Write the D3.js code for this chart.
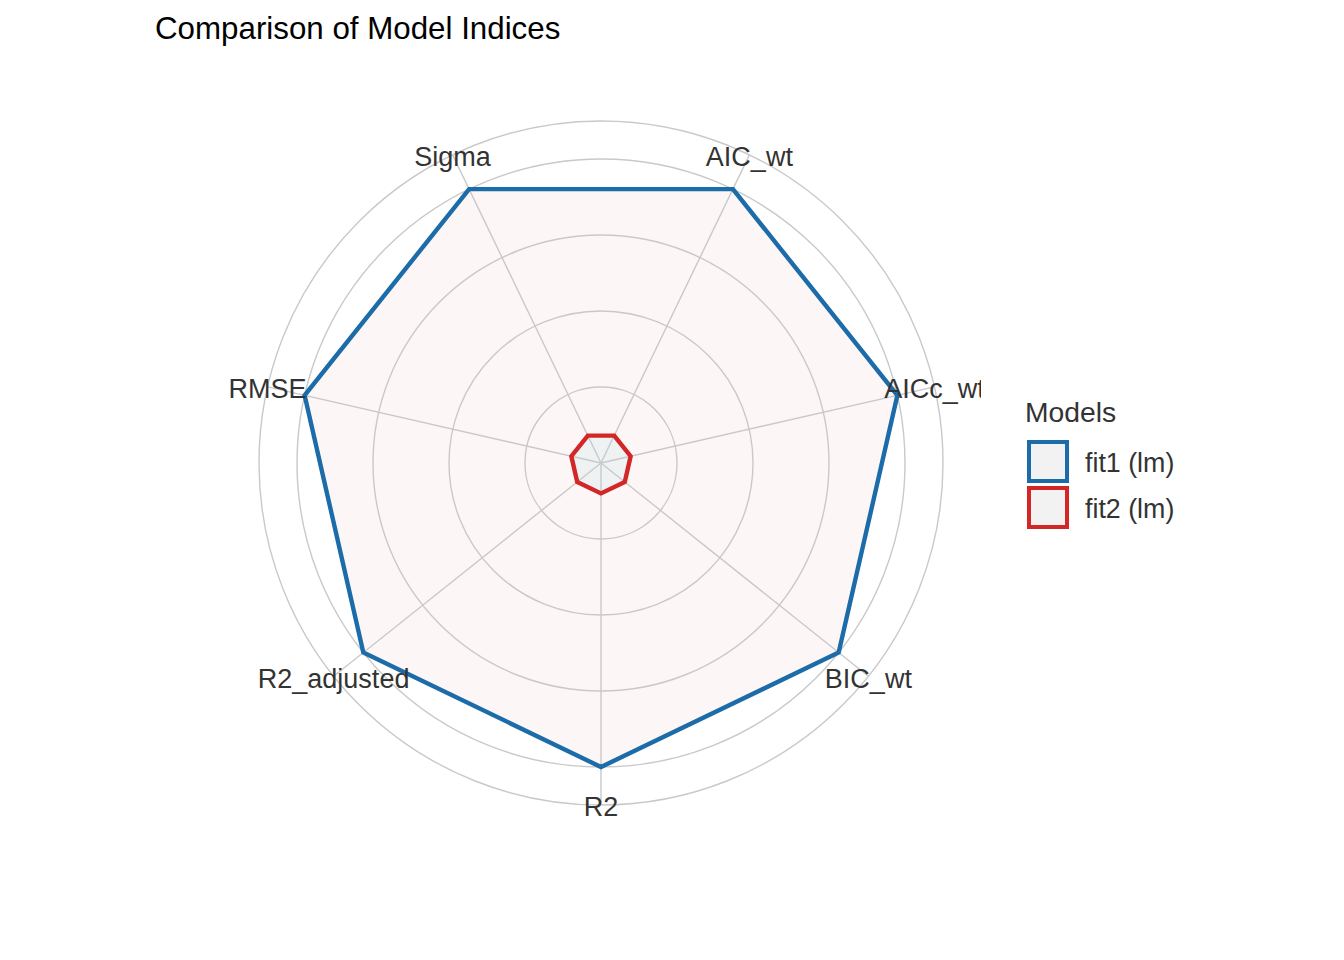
<!DOCTYPE html>
<html>
<head>
<meta charset="utf-8">
<script src="https://cdn.jsdelivr.net/npm/d3@7"></script>
<style>
  body { margin: 0; background: #fff; }
  svg text { font-family: "Liberation Sans", Arial, sans-serif; }
</style>
</head>
<body>
<div id="chart"></div>
<script>
// chart data
var indices = ["AIC_wt", "AICc_wt", "BIC_wt", "R2", "R2_adjusted", "RMSE", "Sigma"];
var models = ["fit1 (lm)", "fit2 (lm)"];
var fit1 = [1, 1, 1, 1, 1, 1, 1];
var fit2 = [0.1, 0.1, 0.1, 0.1, 0.1, 0.1, 0.1];
var gridBreaks = [0.25, 0.5, 0.75, 1];

var width = 1344,
	height = 960,
	cx = 601,
	cy = 463,
	OUTER = 1.125; // outer ring of the panel, in data units

var lineColors = ["#1b6ca8", "#d32626"];
var fillColors = ["#fdf6f6", "#eef2f3"];

var svg = d3.select("#chart").append("svg")
	.attr("width", width)
	.attr("height", height);

var r = d3.scaleLinear().domain([0, 1]).range([0, 304]);

// angle of each index, clockwise from the top, starting half a step off
var step = 2 * Math.PI / indices.length;
var angle = d3.scaleOrdinal()
	.domain(indices)
	.range(indices.map(function(d, i) { return step / 2 + i * step; }));

var point = function(name, value) {
	var a = angle(name);
	return [cx + r(value) * Math.sin(a), cy - r(value) * Math.cos(a)];
};

// clip the panel like ggplot does
svg.append("clipPath").attr("id", "panel")
	.append("rect")
	.attr("x", 0).attr("y", 0)
	.attr("width", 981).attr("height", height);

var panel = svg.append("g").attr("clip-path", "url(#panel)");

var series = [fit1, fit2];

// fills first
var line = d3.line().curve(d3.curveLinearClosed);

panel.selectAll(".area")
	.data(series)
	.enter()
	.append("path")
	.attr("class", "area")
	.attr("d", function(vals) {
		return line(indices.map(function(name, i) { return point(name, vals[i]); }));
	})
	.style("fill", function(d, i) { return fillColors[i]; })
	.style("stroke", "none");

// grid circles
panel.selectAll(".ring")
	.data(gridBreaks.concat([OUTER]))
	.enter()
	.append("circle")
	.attr("class", "ring")
	.attr("cx", cx)
	.attr("cy", cy)
	.attr("r", function(d) { return r(d); })
	.style("fill", "none")
	.style("stroke", "#c9c9c9")
	.style("stroke-width", "1.4px");

// spokes
panel.selectAll(".spoke")
	.data(indices)
	.enter()
	.append("line")
	.attr("class", "spoke")
	.attr("x1", cx)
	.attr("y1", cy)
	.attr("x2", function(d) { return point(d, OUTER)[0]; })
	.attr("y2", function(d) { return point(d, OUTER)[1]; })
	.style("stroke", "#c9c9c9")
	.style("stroke-width", "1.4px");

// outlines
panel.selectAll(".outline")
	.data(series)
	.enter()
	.append("path")
	.attr("class", "outline")
	.attr("d", function(vals) {
		return line(indices.map(function(name, i) { return point(name, vals[i]); }));
	})
	.style("fill", "none")
	.style("stroke", function(d, i) { return lineColors[i]; })
	.style("stroke-width", "4.4px")
	.style("stroke-linejoin", "miter");

// index labels
panel.selectAll(".label")
	.data(indices)
	.enter()
	.append("text")
	.attr("class", "label")
	.attr("x", function(d) { return point(d, OUTER)[0]; })
	.attr("y", function(d) { return point(d, OUTER)[1] + 2; })
	.attr("dy", "0.35em")
	.text(function(d) { return d; })
	.style("fill", "#333333")
	.style("font-size", "27px")
	.style("text-anchor", "middle");

// title
svg.append("text")
	.attr("x", 155)
	.attr("y", 39)
	.text("Comparison of Model Indices")
	.style("fill", "#000")
	.style("font-size", "31.3px");

// legend
var legend = svg.append("g").attr("transform", "translate(1025,0)");

legend.append("text")
	.attr("x", 0)
	.attr("y", 422)
	.text("Models")
	.style("fill", "#333333")
	.style("font-size", "28.3px");

var keys = legend.selectAll(".key")
	.data(models)
	.enter()
	.append("g")
	.attr("class", "key")
	.attr("transform", function(d, i) { return "translate(0," + (442 + i * 46) + ")"; });

keys.append("rect")
	.attr("x", 4)
	.attr("y", 0)
	.attr("width", 38)
	.attr("height", 39)
	.style("fill", "#f2f2f2")
	.style("stroke", function(d, i) { return lineColors[i]; })
	.style("stroke-width", "4px");

keys.append("text")
	.attr("x", 60)
	.attr("y", 21)
	.attr("dy", "0.35em")
	.text(function(d) { return d; })
	.style("fill", "#333333")
	.style("font-size", "26.8px");
</script>
</body>
</html>
